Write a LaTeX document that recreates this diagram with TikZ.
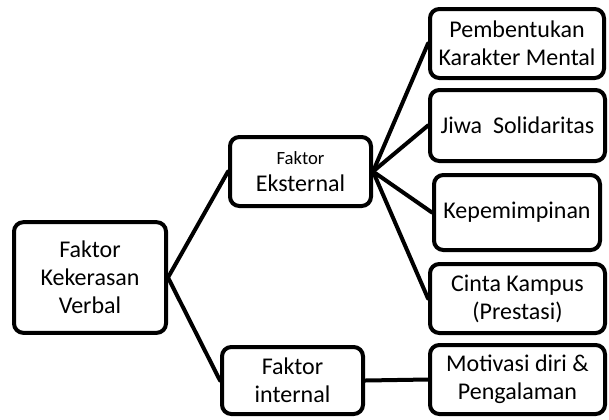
\documentclass[tikz,border=0pt]{standalone}
\usepackage{fontspec}
\setmainfont{Carlito}

\begin{document}
\begin{tikzpicture}[x=0.75pt,y=0.75pt,yscale=-1,xscale=1,
  kotak/.style={draw, line width=3pt, rounded corners=7pt, fill=white, align=center, inner sep=0pt, font=\fontsize{18}{21}\selectfont},
  garis/.style={line width=3pt, line cap=round}]
\useasboundingbox (0,0) rectangle (609,419);

%Shape: Rounded Rect (root)
\node (verbal) [kotak, minimum width=114pt, minimum height=83pt] at (90,277.5) {Faktor\\Kekerasan\\Verbal};
%Shape: Rounded Rect
\node (eksternal) [kotak, minimum width=105.75pt, minimum height=51.75pt] at (300.5,171.5) {{\fontsize{14}{17}\selectfont Faktor}\\[-1pt]Eksternal};
%Shape: Rounded Rect
\node (internal) [kotak, minimum width=105.75pt, minimum height=50.25pt] at (292.5,380.5) {Faktor\\internal};
%Shape: Rounded Rect
\node (karakter) [kotak, minimum width=130.5pt, minimum height=51.75pt] at (517,43.5) {Pembentukan\\Karakter Mental};
%Shape: Rounded Rect
\node (solidaritas) [kotak, minimum width=131.25pt, minimum height=53.25pt] at (517.5,125.5) {Jiwa\ \ Solidaritas};
%Shape: Rounded Rect
\node (kepemimpinan) [kotak, minimum width=124.5pt, minimum height=56.25pt] at (517,212.5) {Kepemimpinan};
%Shape: Rounded Rect
\node (kampus) [kotak, minimum width=131.25pt, minimum height=51.75pt] at (517.5,298.5) {Cinta Kampus\\(Prestasi)};
%Shape: Rounded Rect
\node (motivasi) [kotak, minimum width=131.25pt, minimum height=51.75pt] at (517.5,379.5) {Motivasi diri \&\\Pengalaman};

%Straight Lines
\draw [garis] (verbal.east) -- (eksternal.west);
\draw [garis] (verbal.east) -- (internal.west);
\draw [garis] (eksternal.east) -- (karakter.west);
\draw [garis] (eksternal.east) -- (solidaritas.west);
\draw [garis] (eksternal.east) -- (kepemimpinan.west);
\draw [garis] (eksternal.east) -- (kampus.west);
\draw [garis] (internal.east) -- (motivasi.west);

\end{tikzpicture}
\end{document}
